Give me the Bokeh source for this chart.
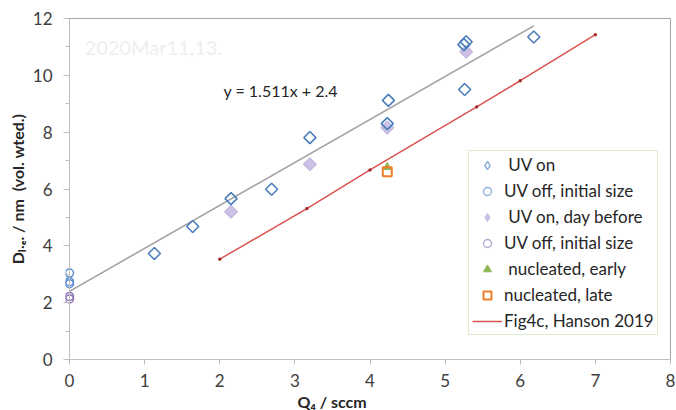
import math
from bokeh.plotting import figure
from bokeh.models import Legend, LegendItem, FixedTicker, Label, Title, LinearAxis, Span
from bokeh.embed import file_html
from bokeh.resources import INLINE

# ---- data ----
uv_on_x = [1.13, 1.64, 2.15, 2.69, 3.20, 4.23, 4.245, 5.26, 5.25, 5.28, 6.18]
uv_on_y = [3.73, 4.68, 5.66, 5.99, 7.81, 8.30, 9.12, 9.50, 11.08, 11.18, 11.35]

uv_off_x = [0.0, 0.0, 0.0]
uv_off_y = [3.04, 2.74, 2.67]

uv_day_x = [2.15, 3.20, 4.23, 5.28]
uv_day_y = [5.20, 6.87, 8.16, 10.83]

uv_off2_x = [0.0, 0.0]
uv_off2_y = [2.22, 2.13]

nuc_early_x = [4.23]
nuc_early_y = [6.77]

nuc_late_x = [4.23]
nuc_late_y = [6.61]

hanson_x = [2.0, 3.16, 4.0, 5.42, 6.0, 7.0]
hanson_y = [3.53, 5.31, 6.67, 8.89, 9.81, 11.43]

fit_x = [0.0, 6.18]
fit_y = [2.4, 11.74]

x_ticks = [0, 1, 2, 3, 4, 5, 6, 7, 8]
y_ticks = [0, 2, 4, 6, 8, 10, 12]
y_minor = [1, 3, 5, 7, 9, 11]

FONT = "Lato"
TXT = "#262626"
AXC = "#BFBFBF"
BORDER = "#A6A6A6"
NAN = float("nan")

p = figure(width=676, height=410, x_range=(-0.05325, 8), y_range=(0, 12),
           output_backend="svg", toolbar_location=None,
           min_border_left=65, min_border_right=6, min_border_top=18,
           min_border_bottom=49)
p.background_fill_color = "white"
p.border_fill_color = "white"
p.outline_line_color = None
p.xgrid.visible = False
p.ygrid.visible = False

for ax in (p.xaxis[0], p.yaxis[0]):
    ax.major_tick_line_color = AXC
    ax.minor_tick_line_color = AXC
    ax.major_label_text_font = FONT
    ax.major_label_text_font_size = "17px"
    ax.major_label_text_color = "#404040"

p.xaxis.axis_line_color = AXC
p.xaxis.ticker = FixedTicker(ticks=x_ticks)
p.xaxis.major_tick_in = 0
p.xaxis.major_tick_out = 5
p.xaxis.minor_tick_out = 0
p.xaxis.minor_tick_in = 0
p.xaxis.major_label_standoff = 9

p.yaxis.axis_line_color = None
p.yaxis.ticker = FixedTicker(ticks=y_ticks, minor_ticks=y_minor)
p.yaxis.major_tick_in = 4
p.yaxis.major_tick_out = 2
p.yaxis.minor_tick_in = 4
p.yaxis.minor_tick_out = 0
p.yaxis.major_label_standoff = 11
p.yaxis.axis_label = "D\u2097.\u2091. / nm\u00a0\u00a0(vol. wted.)"
p.yaxis.axis_label_text_font = FONT
p.yaxis.axis_label_text_font_size = "16px"
p.yaxis.axis_label_text_font_style = "bold"
p.yaxis.axis_label_text_color = TXT
p.yaxis.axis_label_standoff = 3

# vertical axis line at x = 0
p.add_layout(Span(location=0, dimension="height", line_color=AXC, line_width=1))

# top and right border lines
for side in ("above", "right"):
    b = LinearAxis(ticker=FixedTicker(ticks=[]), axis_line_color=BORDER,
                   major_tick_line_color=None, minor_tick_line_color=None,
                   major_label_text_font_size="0px")
    p.add_layout(b, side)

# x-axis title (left of centre as in the reference)
p.add_layout(Title(text="Q\u2084 / sccm", align="left", offset=232,
                   text_font=FONT, text_font_size="16px",
                   text_font_style="bold", text_color=TXT, standoff=0),
             "below")

# trend line and Hanson line
fit_r = p.line(fit_x, fit_y, line_color="#A0A0A0", line_width=1.5)
han_line = p.line(hanson_x, hanson_y, line_color="#D9534F", line_width=1.5)
han_pts = p.scatter(hanson_x, hanson_y, marker="circle", size=2.5,
                    fill_color="#A52A2A", line_color="#A52A2A")

# markers
r_day = p.scatter(uv_day_x, uv_day_y, marker="square", angle=math.pi / 4, size=9,
                  fill_color="#CCC1E6", line_color="#C3B6E0", line_width=1.2)
r_on = p.scatter(uv_on_x, uv_on_y, marker="square", angle=math.pi / 4, size=8.5,
                 fill_color=None, line_color="#4A7EBB", line_width=1.6)
r_off = p.scatter(uv_off_x, uv_off_y, marker="circle", size=8,
                  fill_color=None, line_color="#5B8BD0", line_width=1.5)
r_off2 = p.scatter(uv_off2_x, uv_off2_y, marker="circle", size=8,
                   fill_color=None, line_color="#8B73B5", line_width=1.5)
r_early = p.scatter(nuc_early_x, nuc_early_y, marker="triangle", size=8,
                    fill_color="#8DB652", line_color="#8DB652")
r_late = p.scatter(nuc_late_x, nuc_late_y, marker="square", size=9,
                   fill_color=None, line_color="#F07F2A", line_width=2)

# legend-only glyphs (NaN data, nothing drawn in the plot)
leg_on = p.scatter(x=[NAN], y=[NAN], marker="diamond", size=10,
                   fill_color=None, line_color="#8FAEDD", line_width=1.4)
leg_day = p.scatter(x=[NAN], y=[NAN], marker="diamond", size=10,
                    fill_color="#C9BEE3", line_color="#C9BEE3")
leg_off = p.scatter(x=[NAN], y=[NAN], marker="circle", size=8,
                    fill_color=None, line_color="#8FAEDD", line_width=1.4)
leg_off2 = p.scatter(x=[NAN], y=[NAN], marker="circle", size=8,
                     fill_color=None, line_color="#B5A8D3", line_width=1.4)

legend = Legend(items=[
    LegendItem(label="\u00a0UV on", renderers=[leg_on]),
    LegendItem(label="UV off, initial size", renderers=[leg_off]),
    LegendItem(label="\u00a0UV on, day before", renderers=[leg_day]),
    LegendItem(label="UV off, initial size", renderers=[leg_off2]),
    LegendItem(label="\u00a0nucleated, early", renderers=[r_early]),
    LegendItem(label="nucleated, late", renderers=[r_late]),
    LegendItem(label="Fig4c, Hanson 2019", renderers=[han_line]),
], location=(403, 24))
legend.margin = 0
legend.padding = 3
legend.spacing = 5
legend.glyph_height = 20
legend.label_height = 20
legend.glyph_width = 30
legend.label_standoff = 2
legend.label_text_font = FONT
legend.label_text_font_size = "17px"
legend.label_text_color = TXT
legend.border_line_color = "#C4D79B"
legend.border_line_width = 1.5
legend.background_fill_color = "white"
legend.background_fill_alpha = 1.0
p.add_layout(legend, "center")

# texts in the plot
p.add_layout(Label(x=0.2, y=11.0, text="2020Mar11,13.", text_font=FONT,
                   text_font_size="20px", text_color="#EEEEEE",
                   text_baseline="middle", text_align="left"))
p.add_layout(Label(x=2.05, y=9.45, text="y = 1.511x + 2.4", text_font=FONT,
                   text_font_size="16px", text_color=TXT,
                   text_baseline="middle", text_align="left"))

open("out.html", "w").write(file_html(p, INLINE))
